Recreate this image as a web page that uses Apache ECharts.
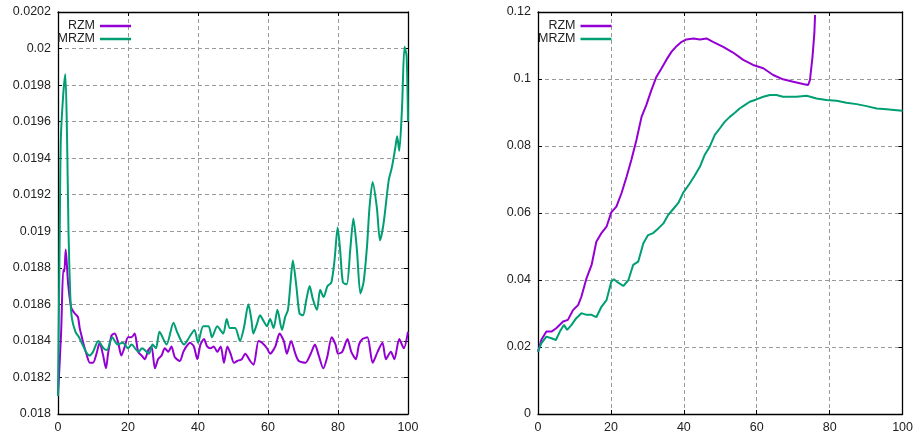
<!DOCTYPE html>
<html><head><meta charset="utf-8">
<script src="https://cdn.jsdelivr.net/npm/echarts@6/dist/echarts.min.js"></script>
<style>html,body{margin:0;padding:0;background:#fff}#c{width:916px;height:437px}</style>
</head><body><div id="c"></div>
<script>
// ---- Left panel data ----
const leftRzmX = [0,0.9,1.5,1.8,2.2,2.9,3.8,4.8,5.7,6.2,6.7,7.2,8.1,9.1,10.0,11.0,11.9,12.9,13.7,14.3,15.3,16.2,17.2,18.1,19.1,20.0,21.0,21.9,22.9,23.9,24.8,25.8,26.7,27.7,28.6,29.6,30.5,31.5,32.4,33.4,34.8,35.8,36.7,37.7,38.8,39.8,40.7,41.7,42.6,43.6,44.5,45.5,46.5,47.4,48.4,49.3,50.3,51.2,52.5,53.5,54.9,55.9,57.3,58.3,59.7,60.6,62.1,63.3,64.5,65.4,66.6,67.8,68.8,70.7,72.2,73.4,74.5,75.8,76.9,78.2,79.3,80.0,81.2,82.7,83.8,85.1,86.0,87.0,88.4,89.9,91.3,92.7,93.7,95.1,96.1,97.5,98.8,100];
const leftRzmY = [0.0181,0.01845,0.01879,0.01878,0.0189,0.01871,0.01858,0.01855,0.01853,0.01847,0.01843,0.01839,0.01833,0.01828,0.01828,0.01833,0.01839,0.01832,0.01825,0.01833,0.01843,0.01844,0.01839,0.01832,0.01837,0.01842,0.01842,0.01844,0.01834,0.01832,0.0183,0.01835,0.01837,0.01825,0.0183,0.01832,0.01836,0.01834,0.01837,0.01831,0.01829,0.01834,0.01837,0.01839,0.01837,0.0183,0.01838,0.01841,0.01837,0.01836,0.01837,0.01834,0.01837,0.01828,0.01837,0.01833,0.01828,0.01829,0.0183,0.01833,0.01829,0.01827,0.0184,0.01839,0.01836,0.01833,0.01837,0.01844,0.0184,0.01833,0.0184,0.01833,0.01829,0.01828,0.01833,0.01838,0.01832,0.01825,0.01831,0.01842,0.01838,0.01833,0.01834,0.01841,0.01834,0.0183,0.01838,0.01841,0.01842,0.01828,0.01834,0.01839,0.0183,0.01834,0.0183,0.01841,0.01836,0.01845];
const leftMrzmX = [0,0.5,0.8,1.5,2.1,2.6,3.0,3.5,4,5,6,7,8,9,10,11.5,13,14,15.5,17,18.5,20,21,23,24,26,27,28,29,31,33,34,36,37.5,39,40,41.5,43,44,45.5,47.2,48.2,49.1,50.6,52.0,53.1,54.4,55.3,55.8,56.8,57.7,58.7,59.7,60.6,61.6,62.7,64.0,64.9,65.7,66.4,67.1,68.1,69.0,70.0,70.9,71.9,72.8,74.0,74.9,75.9,77.0,78.1,79.0,79.9,80.6,81.4,82.5,83.5,84.4,85.4,86.4,87.3,88.3,89.0,89.9,91.1,92.0,93.0,94.5,95.4,96.4,96.9,97.5,98.3,99.0,99.6,100];
const leftMrzmY = [0.0181,0.019,0.0195,0.01975,0.01986,0.0195,0.019,0.01865,0.01852,0.01845,0.01842,0.01838,0.01834,0.01832,0.01834,0.0184,0.01836,0.01835,0.01842,0.01838,0.01839,0.01836,0.01838,0.01834,0.01836,0.01833,0.01838,0.01836,0.01845,0.01838,0.0185,0.01845,0.01838,0.01842,0.01846,0.01839,0.01848,0.01848,0.01842,0.01848,0.01844,0.01852,0.01847,0.01847,0.0184,0.01847,0.0186,0.01851,0.01844,0.01849,0.01854,0.01851,0.01848,0.01852,0.01847,0.01857,0.01846,0.01853,0.01857,0.01871,0.01884,0.0187,0.01855,0.01854,0.01862,0.0187,0.01863,0.01857,0.01868,0.01864,0.0187,0.01872,0.01884,0.01902,0.0189,0.01872,0.01871,0.0189,0.01907,0.0189,0.01866,0.01872,0.01892,0.01913,0.01927,0.01913,0.01895,0.01904,0.01928,0.01935,0.01946,0.01952,0.01944,0.01968,0.02001,0.01996,0.0196];

// ---- Right panel data ----
const rightRzmX = [0,0.9,2.3,3.7,5.0,6.9,8.2,9.6,11.0,11.9,13.3,14.7,16.0,17.4,18.8,20.1,21.5,22.9,24.3,25.6,27.0,28.4,29.7,31.1,32.5,33.9,35.2,36.6,38.0,39.4,40.7,42.6,44.4,46.2,48.0,50.8,53.5,56.3,59.0,61.8,64.5,67.2,70.0,72.7,74.1,74.6,75.3,75.8,76.0];
const rightRzmY = [0.0186,0.0221,0.0246,0.0246,0.0256,0.0276,0.0281,0.031,0.0325,0.035,0.0405,0.0445,0.0514,0.054,0.0559,0.0602,0.0619,0.0659,0.0708,0.0758,0.0818,0.0887,0.0922,0.0967,0.1007,0.1032,0.1057,0.1081,0.1098,0.1111,0.1118,0.1121,0.1118,0.1121,0.1111,0.1096,0.1079,0.1057,0.1042,0.1032,0.1012,0.0999,0.0992,0.0985,0.0982,0.0997,0.1067,0.1136,0.1191];
const rightMrzmX = [0,0.9,2.3,3.7,4.9,6.0,7.1,8.0,9.2,10.5,11.9,13.3,14.7,16.0,17.4,18.8,20.1,20.8,22.0,23.4,24.8,26.1,27.5,28.9,30.2,31.6,33.0,34.4,35.7,37.1,38.5,39.8,41.6,43.0,44.4,45.7,47.1,48.5,49.9,51.2,52.6,54.0,55.3,56.7,58.1,59.9,61.8,63.6,65.4,67.2,69.1,70.9,73.7,76.4,79.1,81.9,84.6,87.4,90.1,92.9,95.6,98.4,100];
const rightMrzmY = [0.0186,0.0211,0.0231,0.0226,0.0221,0.0246,0.0266,0.0251,0.0266,0.0286,0.0301,0.0296,0.0296,0.0289,0.032,0.034,0.0395,0.0402,0.0392,0.0382,0.04,0.0445,0.0455,0.051,0.0534,0.054,0.0554,0.0569,0.0594,0.0612,0.063,0.066,0.0688,0.0712,0.0738,0.0773,0.0798,0.0833,0.0853,0.0872,0.0887,0.0899,0.0912,0.0922,0.0932,0.0939,0.0947,0.0952,0.0952,0.0947,0.0947,0.0947,0.095,0.0942,0.0937,0.0935,0.0929,0.0925,0.0919,0.0912,0.091,0.0907,0.0905];

const seriesNames = ['RZM','MRZM'];
const seriesColors = ['#9400D3','#009E73'];

const pairs = (xs, ys) => xs.map((x, i) => [x, ys[i]]);

const chart = echarts.init(document.getElementById('c'), null, {renderer:'canvas'});
const font = 'Liberation Sans, Arial, sans-serif';
const grids = [
  {left:58, top:12, width:350, height:402},
  {left:538, top:12, width:365, height:402}
];
const split = {show:true, lineStyle:{color:'#9a9a9a', type:[4,3], width:1}};
function xAx(g, pos, label) {
  return {type:'value', gridIndex:g, position:pos, min:0, max:100, interval:20,
    axisLine:{show:true, onZero:false, lineStyle:{color:'#000', width:1.3}},
    axisTick:{show:true, inside:true, length:4, lineStyle:{color:'#000'}},
    axisLabel:{show:label, color:'#222', fontSize:12.5, fontFamily:font, margin:7},
    splitLine: label ? split : {show:false}};
}
function yAx(g, pos, label, min, max, interval) {
  return {type:'value', gridIndex:g, position:pos, min:min, max:max, interval:interval,
    axisLine:{show:true, onZero:false, lineStyle:{color:'#000', width:1.3}},
    axisTick:{show:true, inside:true, length:4, lineStyle:{color:'#000'}},
    axisLabel:{show:label, color:'#222', fontSize:12.5, fontFamily:font, margin:7},
    splitLine: label ? split : {show:false}};
}
function legend(left) {
  return {left:left, top:14.5, orient:'vertical', data:seriesNames, align:'right',
    icon:'rect', itemWidth:31, itemHeight:2.5, itemGap:0, itemTextGap:7, selectedMode:false,
    textStyle:{fontSize:12.5, fontFamily:font, color:'#222', width:38, align:'right', lineHeight:12}};
}
function line(name, color, xi, yi, data, smooth) {
  return {type:'line', name:name, xAxisIndex:xi, yAxisIndex:yi, data:data, showSymbol:false,
    symbol:'none', smooth:smooth, lineStyle:{color:color, width:2}, itemStyle:{color:color}, clip:true};
}
chart.setOption({
  animation:false,
  backgroundColor:'#fff',
  grid: grids,
  legend: [legend(52), legend(532.5)],
  xAxis: [xAx(0,'bottom',true), xAx(0,'top',false), xAx(1,'bottom',true), xAx(1,'top',false)],
  yAxis: [yAx(0,'left',true,0.018,0.0202,0.0002), yAx(0,'right',false,0.018,0.0202,0.0002),
          yAx(1,'left',true,0,0.12,0.02), yAx(1,'right',false,0,0.12,0.02)],
  series: [
    line(seriesNames[0], seriesColors[0], 0, 0, pairs(leftRzmX, leftRzmY), 0.25),
    line(seriesNames[1], seriesColors[1], 0, 0, pairs(leftMrzmX, leftMrzmY), 0.25),
    line(seriesNames[0], seriesColors[0], 2, 2, pairs(rightRzmX, rightRzmY), false),
    line(seriesNames[1], seriesColors[1], 2, 2, pairs(rightMrzmX, rightMrzmY), false)
  ]
});
</script></body></html>
